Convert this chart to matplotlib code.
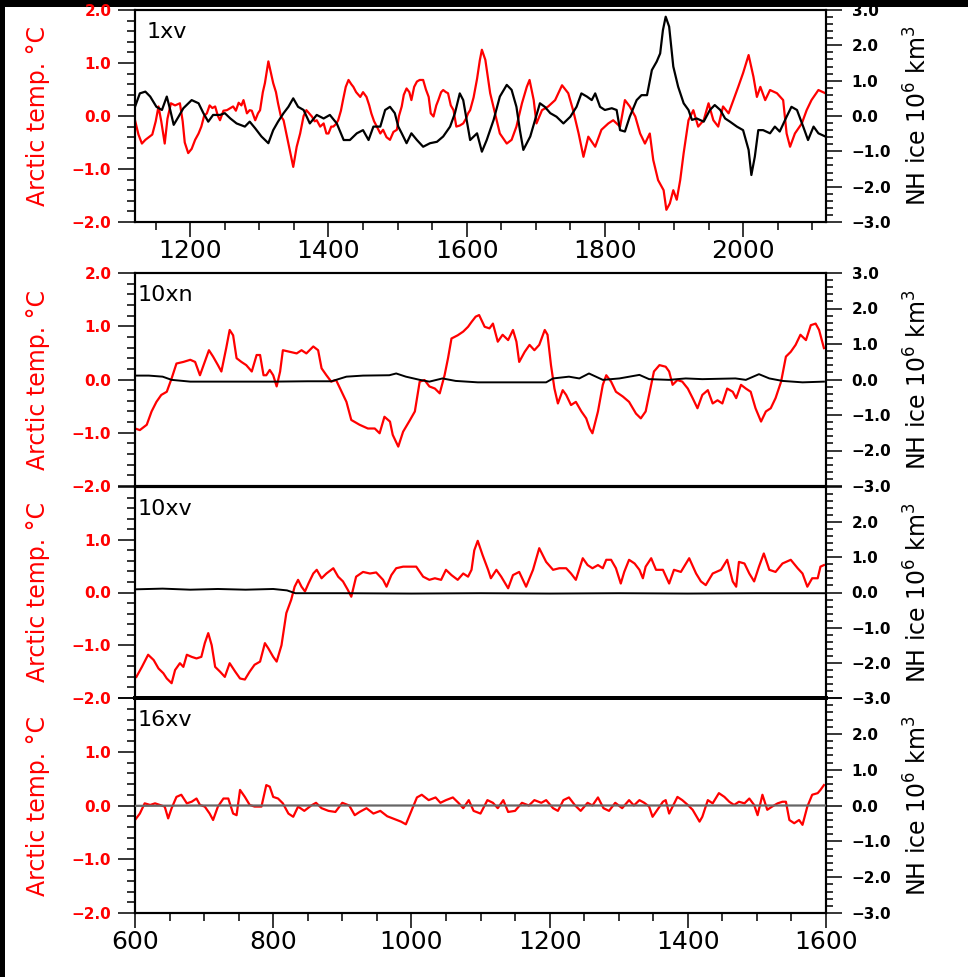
import numpy as np
import matplotlib
matplotlib.use("Agg")
import matplotlib.pyplot as plt
from matplotlib.ticker import MultipleLocator, FuncFormatter
from matplotlib.patches import Rectangle

# ---- 1xv : 1120-2120 ----
yr_1xv_t = [1120, 1125, 1130, 1135, 1140, 1145, 1150, 1154, 1158, 1163, 1167, 1172, 1178, 1185, 1189,
            1192, 1197, 1202, 1207, 1212, 1216, 1220, 1224, 1228, 1232, 1236, 1240, 1243, 1248, 1253,
            1258, 1262, 1266, 1270, 1274, 1277, 1282, 1286, 1289, 1294, 1298, 1301, 1305, 1308, 1313,
            1317, 1320, 1324, 1327, 1331, 1335, 1339, 1344, 1349, 1354, 1359, 1364, 1368, 1372, 1376,
            1380, 1383, 1388, 1393, 1397, 1400, 1404, 1407, 1411, 1414, 1418, 1421, 1425, 1429, 1433,
            1436, 1440, 1446, 1450, 1455, 1459, 1462, 1466, 1470, 1475, 1479, 1484, 1489, 1494, 1499,
            1502, 1506, 1509, 1513, 1517, 1520, 1524, 1528, 1532, 1537, 1541, 1545, 1548, 1552, 1556,
            1559, 1563, 1566, 1570, 1573, 1577, 1581, 1585, 1590, 1595, 1599, 1602, 1605, 1610, 1615,
            1619, 1622, 1627, 1634, 1641, 1648, 1658, 1665, 1672, 1680, 1687, 1691, 1697, 1701, 1709,
            1718, 1728, 1738, 1747, 1754, 1762, 1769, 1776, 1786, 1795, 1805, 1812, 1822, 1829, 1836,
            1844, 1851, 1858, 1865, 1870, 1877, 1885, 1889, 1894, 1899, 1904, 1909, 1914, 1921, 1928,
            1935, 1943, 1950, 1957, 1964, 1971, 1979, 1986, 1993, 2000, 2008, 2015, 2020, 2025, 2032,
            2039, 2049, 2058, 2063, 2068, 2075, 2085, 2092, 2099, 2109, 2119]
temp_1xv = [-0.08, -0.35, -0.52, -0.45, -0.40, -0.35, -0.10, 0.18, -0.10, -0.52, -0.05, 0.24, 0.20, 0.24, -0.10,
            -0.50, -0.70, -0.62, -0.45, -0.33, -0.20, 0.00, 0.05, 0.20, 0.15, 0.18, 0.00, -0.08, 0.10, 0.11,
            0.15, 0.18, 0.10, 0.25, 0.20, 0.30, 0.05, 0.11, 0.10, -0.08, 0.05, 0.11, 0.45, 0.62, 1.03,
            0.80, 0.62, 0.45, 0.24, 0.00, -0.08, -0.33, -0.64, -0.96, -0.58, -0.33, 0.00, 0.11, 0.05, -0.01,
            -0.10, -0.08, -0.20, -0.14, -0.33, -0.33, -0.20, -0.20, -0.15, -0.08, 0.10, 0.30, 0.55, 0.68, 0.60,
            0.55, 0.45, 0.36, 0.45, 0.36, 0.20, 0.05, -0.10, -0.20, -0.33, -0.26, -0.40, -0.45, -0.30, -0.26,
            0.00, 0.18, 0.40, 0.52, 0.45, 0.30, 0.55, 0.65, 0.68, 0.68, 0.50, 0.36, 0.05, -0.01, 0.20,
            0.30, 0.45, 0.49, 0.45, 0.43, 0.20, 0.11, -0.20, -0.18, -0.14, -0.05, 0.05, 0.11, 0.35, 0.70,
            1.05, 1.25, 1.06, 0.43, 0.05, -0.33, -0.52, -0.45, -0.20, 0.24, 0.55, 0.68, 0.30, -0.14, 0.11,
            0.18, 0.30, 0.58, 0.43, 0.11, -0.33, -0.77, -0.39, -0.58, -0.26, -0.14, -0.08, -0.20, 0.30, 0.18,
            -0.01, -0.33, -0.52, -0.33, -0.83, -1.21, -1.40, -1.77, -1.65, -1.40, -1.58, -1.21, -0.70, -0.08, 0.11,
            -0.20, -0.08, 0.24, -0.08, -0.20, 0.18, 0.05, 0.30, 0.55, 0.81, 1.15, 0.74, 0.36, 0.55, 0.30,
            0.49, 0.43, 0.30, -0.33, -0.58, -0.33, -0.14, 0.11, 0.30, 0.49, 0.43]

yr_1xv_i = [1120, 1127, 1135, 1142, 1151, 1159, 1166, 1171, 1176, 1183, 1190, 1202, 1212, 1219, 1226,
            1233, 1243, 1250, 1258, 1267, 1279, 1286, 1294, 1303, 1313, 1320, 1327, 1335, 1342, 1349,
            1356, 1364, 1373, 1383, 1393, 1402, 1412, 1422, 1431, 1441, 1450, 1458, 1465, 1475, 1482,
            1489, 1496, 1501, 1506, 1513, 1520, 1528, 1537, 1547, 1557, 1566, 1576, 1583, 1590, 1595,
            1600, 1605, 1615, 1622, 1629, 1639, 1648, 1658, 1665, 1672, 1677, 1682, 1692, 1699, 1706,
            1713, 1721, 1730, 1740, 1750, 1759, 1766, 1774, 1781, 1786, 1793, 1800, 1810, 1817, 1822,
            1829, 1836, 1846, 1853, 1861, 1868, 1875, 1880, 1884, 1888, 1893, 1899, 1906, 1914, 1921,
            1926, 1933, 1943, 1952, 1959, 1967, 1974, 1981, 1991, 2000, 2008, 2012, 2017, 2022, 2029,
            2039, 2046, 2053, 2063, 2070, 2078, 2087, 2094, 2102, 2109, 2119]
ice_1xv = [0.26, 0.64, 0.69, 0.55, 0.26, 0.17, 0.55, 0.17, -0.25, -0.02, 0.22, 0.45, 0.36, 0.08, -0.16,
           0.03, 0.03, 0.08, -0.07, -0.21, -0.30, -0.16, -0.35, -0.58, -0.77, -0.40, -0.16, 0.08, 0.26, 0.50,
           0.26, 0.17, -0.21, 0.03, -0.07, 0.03, -0.21, -0.68, -0.68, -0.49, -0.40, -0.68, -0.30, -0.30, 0.17,
           0.26, 0.08, -0.30, -0.49, -0.77, -0.49, -0.68, -0.87, -0.77, -0.73, -0.58, -0.30, 0.08, 0.64, 0.45,
           -0.11, -0.68, -0.49, -1.01, -0.68, -0.11, 0.55, 0.88, 0.74, 0.26, -0.40, -0.96, -0.58, -0.11, 0.36,
           0.26, 0.08, -0.02, -0.21, -0.02, 0.26, 0.64, 0.55, 0.45, 0.64, 0.26, 0.17, 0.22, 0.17, -0.40,
           -0.44, -0.02, 0.45, 0.59, 0.59, 1.30, 1.54, 1.77, 2.43, 2.81, 2.53, 1.40, 0.83, 0.36, 0.17,
           -0.11, -0.07, -0.16, 0.17, 0.31, 0.17, -0.07, -0.16, -0.30, -0.40, -0.96, -1.67, -1.15, -0.40, -0.40,
           -0.49, -0.30, -0.44, -0.02, 0.26, 0.17, -0.30, -0.68, -0.30, -0.49, -0.58]

# ---- 10xn : 600-1600 ----
yr_10xn_t = [600, 607, 617, 624, 631, 638, 646, 653, 660, 670, 680, 687, 694, 701, 707, 713, 720, 725,
             732, 737, 742, 747, 754, 761, 769, 776, 781, 786, 790, 795, 800, 805, 810, 814, 824, 834,
             841, 848, 858, 865, 870, 877, 884, 891, 899, 906, 913, 925, 937, 947, 954, 961, 969, 973,
             981, 988, 998, 1005, 1012, 1019, 1026, 1034, 1041, 1048, 1053, 1058, 1067, 1075, 1082, 1087,
             1093, 1098, 1106, 1113, 1118, 1125, 1132, 1140, 1147, 1152, 1156, 1164, 1171, 1178, 1185, 1193,
             1197, 1202, 1207, 1212, 1219, 1224, 1231, 1238, 1246, 1253, 1258, 1262, 1270, 1277, 1282, 1289,
             1296, 1306, 1315, 1325, 1332, 1339, 1347, 1351, 1359, 1368, 1373, 1378, 1385, 1392, 1400, 1407,
             1414, 1421, 1429, 1436, 1443, 1450, 1457, 1465, 1470, 1477, 1484, 1491, 1498, 1506, 1513, 1520,
             1527, 1535, 1542, 1549, 1556, 1563, 1571, 1578, 1585, 1590, 1597]
temp_10xn = [-0.92, -0.95, -0.85, -0.60, -0.42, -0.29, -0.23, 0.02, 0.30, 0.33, 0.37, 0.33, 0.08, 0.33, 0.55, 0.43, 0.27, 0.15,
             0.59, 0.93, 0.83, 0.40, 0.33, 0.27, 0.15, 0.46, 0.46, 0.08, 0.08, 0.18, 0.08, -0.13, 0.15, 0.55, 0.52, 0.49,
             0.55, 0.49, 0.62, 0.55, 0.21, 0.08, -0.04, -0.01, -0.23, -0.42, -0.76, -0.85, -0.92, -0.92, -1.01, -0.70, -0.79, -1.04,
             -1.26, -0.98, -0.76, -0.60, -0.04, -0.01, -0.13, -0.17, -0.26, 0.08, 0.40, 0.77, 0.83, 0.90, 0.99, 1.08,
             1.18, 1.21, 0.99, 0.96, 1.05, 0.71, 0.84, 0.74, 0.93, 0.71, 0.33, 0.52, 0.65, 0.55, 0.65, 0.93,
             0.84, 0.27, -0.17, -0.45, -0.20, -0.29, -0.48, -0.42, -0.60, -0.73, -0.92, -1.01, -0.60, -0.10, 0.08, -0.04,
             -0.23, -0.32, -0.42, -0.64, -0.73, -0.60, -0.10, 0.15, 0.27, 0.24, 0.15, -0.10, -0.01, -0.04, -0.17, -0.35,
             -0.54, -0.29, -0.20, -0.45, -0.39, -0.45, -0.17, -0.23, -0.35, -0.10, -0.17, -0.23, -0.54, -0.79, -0.60, -0.54,
             -0.35, -0.04, 0.43, 0.52, 0.65, 0.84, 0.74, 1.02, 1.05, 0.93, 0.59]

yr_10xn_i = [600, 620, 640, 653, 680, 750, 800, 850, 884, 891, 906, 930, 968, 978, 992, 1012, 1026, 1045,
             1064, 1096, 1120, 1195, 1205, 1228, 1243, 1257, 1277, 1301, 1330, 1344, 1373, 1397, 1421, 1469,
             1484, 1503, 1518, 1537, 1566, 1597]
ice_10xn = [0.11, 0.11, 0.08, -0.01, -0.06, -0.06, -0.06, -0.05, -0.05, -0.01, 0.08, 0.11, 0.12, 0.17, 0.08, -0.01, -0.06, 0.03,
            -0.04, -0.08, -0.08, -0.08, 0.03, 0.08, 0.03, 0.17, -0.01, 0.03, 0.13, 0.01, -0.01, 0.03, 0.01, 0.03,
            -0.01, 0.15, 0.03, -0.04, -0.08, -0.06]

# ---- 10xv : 600-1600 ----
yr_10xv_t = [602, 610, 619, 627, 634, 641, 646, 653, 658, 665, 670, 675, 682, 689, 696, 701, 706, 711,
             716, 723, 730, 737, 745, 752, 759, 766, 773, 781, 788, 793, 800, 805, 812, 819, 826, 831,
             836, 841, 846, 851, 858, 863, 870, 877, 887, 894, 901, 908, 913, 920, 930, 940, 949, 959,
             964, 971, 978, 988, 997, 1007, 1017, 1026, 1034, 1043, 1050, 1058, 1067, 1075, 1082, 1087, 1091, 1096,
             1103, 1111, 1115, 1123, 1130, 1140, 1147, 1156, 1166, 1176, 1185, 1195, 1205, 1214, 1224, 1231,
             1238, 1248, 1255, 1262, 1270, 1277, 1282, 1289, 1296, 1303, 1308, 1315, 1323, 1330, 1335, 1339,
             1347, 1354, 1364, 1373, 1380, 1390, 1402, 1412, 1419, 1426, 1436, 1448, 1457, 1465, 1470, 1474,
             1482, 1489, 1496, 1503, 1510, 1518, 1527, 1537, 1549, 1559, 1566, 1573, 1580, 1588, 1592, 1597]
temp_10xv = [-1.60, -1.41, -1.18, -1.28, -1.44, -1.53, -1.63, -1.72, -1.47, -1.34, -1.41, -1.18, -1.22, -1.25, -1.22, -0.96, -0.77, -1.00,
             -1.41, -1.50, -1.60, -1.34, -1.50, -1.63, -1.65, -1.50, -1.37, -1.31, -0.96, -1.06, -1.22, -1.31, -1.00, -0.39, -0.14, 0.11,
             0.24, 0.11, 0.02, 0.17, 0.36, 0.43, 0.27, 0.36, 0.46, 0.30, 0.21, 0.05, -0.08, 0.30, 0.39, 0.36, 0.38, 0.24,
             0.11, 0.33, 0.46, 0.49, 0.49, 0.49, 0.30, 0.24, 0.27, 0.24, 0.43, 0.33, 0.24, 0.36, 0.30, 0.43, 0.80, 0.98,
             0.71, 0.43, 0.27, 0.43, 0.30, 0.08, 0.33, 0.39, 0.11, 0.43, 0.84, 0.58, 0.43, 0.46, 0.46, 0.36,
             0.24, 0.65, 0.52, 0.46, 0.52, 0.46, 0.62, 0.62, 0.46, 0.17, 0.39, 0.62, 0.55, 0.43, 0.27, 0.49,
             0.65, 0.43, 0.43, 0.17, 0.43, 0.39, 0.65, 0.36, 0.21, 0.14, 0.36, 0.43, 0.62, 0.21, 0.11, 0.58,
             0.55, 0.36, 0.21, 0.49, 0.74, 0.43, 0.39, 0.55, 0.62, 0.46, 0.36, 0.11, 0.27, 0.27, 0.49, 0.52]

yr_10xv_i = [600, 640, 680, 720, 760, 800, 820, 832, 900, 1000, 1100, 1200, 1300, 1400, 1500, 1600]
ice_10xv = [0.09, 0.11, 0.08, 0.10, 0.08, 0.10, 0.06, -0.02, -0.02, -0.03, -0.02, -0.03, -0.02, -0.03, -0.02, -0.02]

# ---- 16xv : 600-1600 ----
yr_16xv_t = [600, 607, 614, 622, 629, 636, 643, 648, 653, 660, 667, 675, 682, 689, 694, 701, 708, 713,
             720, 728, 735, 742, 747, 752, 759, 766, 773, 783, 790, 795, 800, 807, 814, 822, 829, 836,
             845, 855, 862, 870, 880, 890, 900, 910, 918, 925, 935, 945, 955, 965, 975, 985, 992, 1000,
             1008, 1015, 1025, 1035, 1042, 1050, 1060, 1068, 1075, 1083, 1090, 1100, 1110, 1118, 1125, 1133,
             1140, 1150, 1160, 1170, 1178, 1188, 1195, 1205, 1212, 1220, 1228, 1237, 1245, 1255, 1262, 1270,
             1278, 1286, 1295, 1305, 1315, 1322, 1330, 1337, 1344, 1349, 1356, 1364, 1368, 1373, 1378, 1385,
             1392, 1400, 1407, 1417, 1421, 1429, 1436, 1445, 1453, 1460, 1467, 1474, 1482, 1489, 1496, 1501,
             1508, 1515, 1522, 1530, 1537, 1542, 1547, 1554, 1561, 1566, 1573, 1580, 1588, 1592, 1597]
temp_16xv = [-0.27, -0.15, 0.04, 0.01, 0.04, 0.01, -0.02, -0.24, -0.05, 0.16, 0.20, 0.04, 0.07, 0.13, 0.01, -0.02, -0.15, -0.27,
             -0.02, 0.13, 0.13, -0.15, -0.18, 0.29, 0.16, 0.01, -0.02, -0.02, 0.38, 0.35, 0.16, 0.13, 0.04, -0.15, -0.21, -0.02,
             -0.10, 0.00, 0.05, -0.05, -0.10, -0.12, 0.05, 0.00, -0.18, -0.12, -0.05, -0.15, -0.10, -0.20, -0.25, -0.30, -0.35, -0.10,
             0.15, 0.20, 0.10, 0.15, 0.05, 0.10, 0.15, 0.05, -0.05, 0.10, -0.10, -0.15, 0.10, 0.05, -0.05, 0.10,
             -0.12, -0.10, 0.05, 0.00, 0.10, 0.05, 0.10, -0.05, -0.10, 0.10, 0.15, 0.00, -0.10, 0.05, 0.00, 0.15,
             -0.05, -0.10, 0.05, -0.05, 0.10, 0.00, 0.10, 0.05, -0.02, -0.21, -0.08, 0.07, 0.10, -0.15, -0.02, 0.16,
             0.10, 0.01, -0.08, -0.30, -0.21, 0.10, 0.04, 0.23, 0.16, 0.07, 0.01, 0.07, 0.04, 0.13, 0.01, -0.18,
             0.20, -0.08, -0.02, 0.04, 0.07, 0.07, -0.27, -0.33, -0.27, -0.36, -0.02, 0.20, 0.23, 0.29, 0.38]

yr_16xv_i = [600, 700, 800, 900, 1000, 1100, 1200, 1300, 1400, 1500, 1600]
ice_16xv = [-0.01, 0.00, 0.00, 0.00, 0.00, 0.00, 0.00, 0.00, 0.00, 0.00, 0.00]

W, H = 968, 977


def rect(left, top, right, bottom):
    return [left / W, 1 - bottom / H, (right - left) / W, (bottom - top) / H]


def fmt(skip=None):
    # one-decimal labels with a real minus sign; 'skip' blanks the label at that value
    def f(v, pos):
        if skip is not None and abs(v - skip) < 1e-6:
            return ''
        s = '%.1f' % (0.0 if abs(v) < 1e-9 else v)
        return s.replace('-', '\u2212')
    return f


def panel(ax, yt, t, yi, ice, name, xlim, xticks, hide_top, name_x, ice_lw, ice_col):
    ax.plot(yt, t, color='red', lw=1.6, zorder=2)
    ax.set_xlim(*xlim)
    ax.set_ylim(-2, 2)
    ax.yaxis.set_major_locator(MultipleLocator(1.0))
    ax.yaxis.set_minor_locator(MultipleLocator(0.2))
    ax.yaxis.set_major_formatter(FuncFormatter(fmt(2.0 if hide_top else None)))
    ax.tick_params(axis='y', which='major', direction='out', length=12, width=1.1,
                   labelsize=11, labelcolor='red', pad=5)
    ax.tick_params(axis='y', which='minor', direction='out', length=5.5, width=1.1)
    for lb in ax.get_yticklabels():
        lb.set_fontweight('bold')
    if xticks:
        ax.xaxis.set_major_locator(MultipleLocator(200))
        ax.xaxis.set_minor_locator(MultipleLocator(50))
        ax.tick_params(axis='x', which='major', direction='out', length=11, width=1.1,
                       labelsize=18, pad=1)
        ax.tick_params(axis='x', which='minor', direction='out', length=6, width=1.1)
    else:
        ax.tick_params(axis='x', which='both', bottom=False, labelbottom=False)
    ax.text(-0.14, 0.5, 'Arctic temp. \u00b0C', transform=ax.transAxes, rotation=90,
            ha='center', va='center', color='red', fontsize=17)
    ax.text(name_x, 0.945, name, transform=ax.transAxes, ha='left', va='top', fontsize=16)

    ax2 = ax.twinx()
    ax2.plot(yi, ice, color=ice_col, lw=ice_lw, zorder=3)
    ax2.set_ylim(-3, 3)
    ax2.yaxis.set_major_locator(MultipleLocator(1.0))
    ax2.yaxis.set_minor_locator(MultipleLocator(0.2))
    ax2.yaxis.set_major_formatter(FuncFormatter(fmt(3.0 if hide_top else None)))
    ax2.tick_params(axis='y', which='major', direction='out', length=11.5, width=1.1,
                    labelsize=11, pad=7)
    ax2.tick_params(axis='y', which='minor', direction='out', length=5, width=1.1)
    for lb in ax2.get_yticklabels():
        lb.set_fontweight('bold')
    ax2.text(1.133, 0.5, 'NH ice 10$^{6}$ km$^{3}$', transform=ax.transAxes, rotation=90,
             ha='center', va='center', fontsize=17)
    for a in (ax, ax2):
        for sp in a.spines.values():
            sp.set_linewidth(1.5)
    return ax2


fig = plt.figure(figsize=(W / 100, H / 100), dpi=100)
fig.patch.set_facecolor('black')
fig.add_artist(Rectangle((5 / W, 0), 1 - 5 / W, 1 - 7 / H, transform=fig.transFigure,
                         facecolor='white', edgecolor='none', zorder=-5))

ax1 = fig.add_axes(rect(135, 10, 826, 222))
panel(ax1, yr_1xv_t, temp_1xv, yr_1xv_i, ice_1xv, '1xv', (1120, 2120), True, False, 0.017, 1.6, 'black')

ax2 = fig.add_axes(rect(135, 273, 826, 486))
panel(ax2, yr_10xn_t, temp_10xn, yr_10xn_i, ice_10xn, '10xn', (600, 1600), False, False, 0.003, 1.4, 'black')

ax3 = fig.add_axes(rect(135, 487, 826, 698))
t3 = panel(ax3, yr_10xv_t, temp_10xv, yr_10xv_i, ice_10xv, '10xv', (600, 1600), False, True, 0.003, 1.4, 'black')

ax4 = fig.add_axes(rect(135, 698, 826, 913))
t4 = panel(ax4, yr_16xv_t, temp_16xv, yr_16xv_i, ice_16xv, '16xv', (600, 1600), True, True, 0.003, 1.6, '0.4')

# heavier divider between the last two panels
for a in (ax3, t3):
    a.spines['bottom'].set_linewidth(2.8)
for a in (ax4, t4):
    a.spines['top'].set_linewidth(2.8)

fig.savefig('out.png', dpi=100, facecolor=fig.get_facecolor())
